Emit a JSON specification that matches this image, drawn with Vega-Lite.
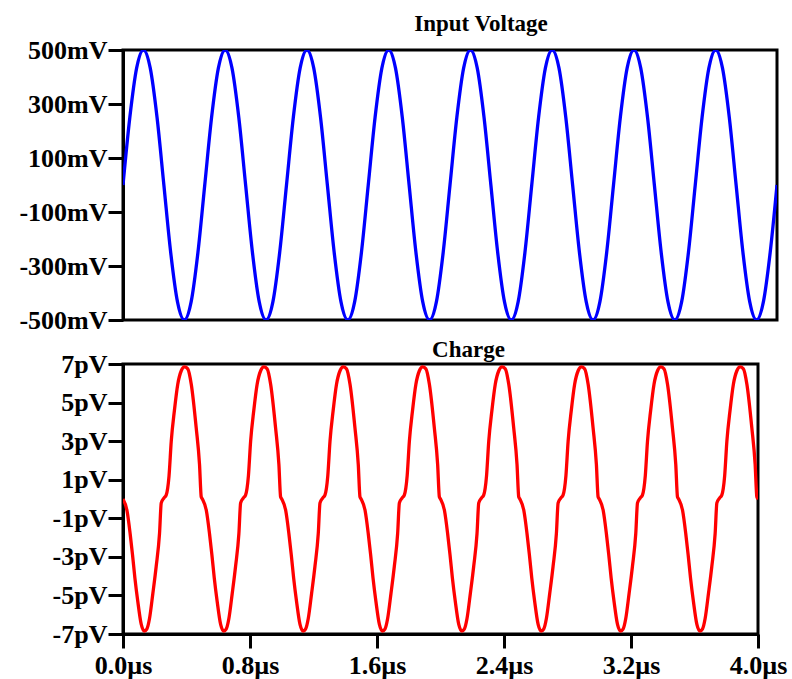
{
  "$schema": "https://vega.github.io/schema/vega-lite/v6.json",
  "background": "white",
  "padding": {"left": 17, "top": 11, "right": 10, "bottom": 5},
  "spacing": 2,
  "config": {
    "view": {"stroke": "black", "strokeWidth": 3},
    "axis": {"labelFont": "Liberation Serif", "labelFontWeight": "bold", "labelFontSize": 26, "labelColor": "black", "tickColor": "black", "tickWidth": 3, "tickSize": 15, "domainColor": "black", "domainWidth": 3, "grid": false, "labelOverlap": false, "labelFlush": false},
    "title": {"font": "Liberation Serif", "fontWeight": "bold", "fontSize": 23, "color": "black", "anchor": "middle", "frame": "group"}
  },
  "vconcat": [
    {
      "width": 654,
      "height": 270,
      "title": {"text": "Input Voltage", "dx": 31, "offset": -17, "baseline": "alphabetic"},
      "data": {"name": "volt"},
      "mark": {"type": "line", "color": "#0000FF", "strokeWidth": 3.3, "interpolate": "monotone", "clip": true},
      "encoding": {
        "x": {"field": "t", "type": "quantitative", "scale": {"domain": [0, 4], "nice": false}, "axis": null},
        "y": {"field": "v", "type": "quantitative", "scale": {"domain": [-500, 500], "nice": false}, "axis": {"title": null, "values": [-500, -300, -100, 100, 300, 500], "labelExpr": "datum.value + 'mV'", "labelPadding": 1}}
      }
    },
    {
      "width": 635,
      "height": 270,
      "title": {"text": "Charge", "dx": 28, "offset": -29, "baseline": "alphabetic"},
      "data": {"name": "charge"},
      "mark": {"type": "line", "color": "#FF0000", "strokeWidth": 3.3, "interpolate": "monotone", "clip": true},
      "encoding": {
        "x": {"field": "t", "type": "quantitative", "scale": {"domain": [0, 4], "nice": false}, "axis": {"title": null, "values": [0, 0.8, 1.6, 2.4, 3.2, 4.0], "labelExpr": "format(datum.value, '.1f') + 'µs'", "tickSize": 14, "labelPadding": 4}},
        "y": {"field": "v", "type": "quantitative", "scale": {"domain": [-7, 7], "nice": false}, "axis": {"title": null, "values": [-7, -5, -3, -1, 1, 3, 5, 7], "labelExpr": "datum.value + 'pV'", "labelPadding": 1}}
      }
    }
  ],
  "datasets": {
    "volt": [
      {"t": 0, "v": 0}, {"t": 0.0417, "v": 250}, {"t": 0.0833, "v": 433}, {"t": 0.125, "v": 500}, {"t": 0.1667, "v": 433}, {"t": 0.2083, "v": 250}, {"t": 0.25, "v": 0}, {"t": 0.2917, "v": -250}, {"t": 0.3333, "v": -433}, {"t": 0.375, "v": -500}, {"t": 0.4167, "v": -433}, {"t": 0.4583, "v": -250},
      {"t": 0.5, "v": 0}, {"t": 0.5417, "v": 250}, {"t": 0.5833, "v": 433}, {"t": 0.625, "v": 500}, {"t": 0.6667, "v": 433}, {"t": 0.7083, "v": 250}, {"t": 0.75, "v": 0}, {"t": 0.7917, "v": -250}, {"t": 0.8333, "v": -433}, {"t": 0.875, "v": -500}, {"t": 0.9167, "v": -433}, {"t": 0.9583, "v": -250},
      {"t": 1.0, "v": 0}, {"t": 1.0417, "v": 250}, {"t": 1.0833, "v": 433}, {"t": 1.125, "v": 500}, {"t": 1.1667, "v": 433}, {"t": 1.2083, "v": 250}, {"t": 1.25, "v": 0}, {"t": 1.2917, "v": -250}, {"t": 1.3333, "v": -433}, {"t": 1.375, "v": -500}, {"t": 1.4167, "v": -433}, {"t": 1.4583, "v": -250},
      {"t": 1.5, "v": 0}, {"t": 1.5417, "v": 250}, {"t": 1.5833, "v": 433}, {"t": 1.625, "v": 500}, {"t": 1.6667, "v": 433}, {"t": 1.7083, "v": 250}, {"t": 1.75, "v": 0}, {"t": 1.7917, "v": -250}, {"t": 1.8333, "v": -433}, {"t": 1.875, "v": -500}, {"t": 1.9167, "v": -433}, {"t": 1.9583, "v": -250},
      {"t": 2.0, "v": 0}, {"t": 2.0417, "v": 250}, {"t": 2.0833, "v": 433}, {"t": 2.125, "v": 500}, {"t": 2.1667, "v": 433}, {"t": 2.2083, "v": 250}, {"t": 2.25, "v": 0}, {"t": 2.2917, "v": -250}, {"t": 2.3333, "v": -433}, {"t": 2.375, "v": -500}, {"t": 2.4167, "v": -433}, {"t": 2.4583, "v": -250},
      {"t": 2.5, "v": 0}, {"t": 2.5417, "v": 250}, {"t": 2.5833, "v": 433}, {"t": 2.625, "v": 500}, {"t": 2.6667, "v": 433}, {"t": 2.7083, "v": 250}, {"t": 2.75, "v": 0}, {"t": 2.7917, "v": -250}, {"t": 2.8333, "v": -433}, {"t": 2.875, "v": -500}, {"t": 2.9167, "v": -433}, {"t": 2.9583, "v": -250},
      {"t": 3.0, "v": 0}, {"t": 3.0417, "v": 250}, {"t": 3.0833, "v": 433}, {"t": 3.125, "v": 500}, {"t": 3.1667, "v": 433}, {"t": 3.2083, "v": 250}, {"t": 3.25, "v": 0}, {"t": 3.2917, "v": -250}, {"t": 3.3333, "v": -433}, {"t": 3.375, "v": -500}, {"t": 3.4167, "v": -433}, {"t": 3.4583, "v": -250},
      {"t": 3.5, "v": 0}, {"t": 3.5417, "v": 250}, {"t": 3.5833, "v": 433}, {"t": 3.625, "v": 500}, {"t": 3.6667, "v": 433}, {"t": 3.7083, "v": 250}, {"t": 3.75, "v": 0}, {"t": 3.7917, "v": -250}, {"t": 3.8333, "v": -433}, {"t": 3.875, "v": -500}, {"t": 3.9167, "v": -433}, {"t": 3.9583, "v": -250},
      {"t": 4.0, "v": 0}
    ],
    "charge": [
      {"t": 0, "v": 0}, {"t": 0.025, "v": -0.6}, {"t": 0.045, "v": -1.8}, {"t": 0.06, "v": -2.9}, {"t": 0.075, "v": -4.1}, {"t": 0.093, "v": -5.3}, {"t": 0.115, "v": -6.5}, {"t": 0.135, "v": -6.85}, {"t": 0.15, "v": -6.75}, {"t": 0.167, "v": -6.2}, {"t": 0.188, "v": -4.9}, {"t": 0.209, "v": -3.5}, {"t": 0.23, "v": -1.8}, {"t": 0.241, "v": -0.2}, {"t": 0.258, "v": 0.05}, {"t": 0.272, "v": 0.2}, {"t": 0.29, "v": 1.2}, {"t": 0.304, "v": 3.0}, {"t": 0.324, "v": 4.6}, {"t": 0.345, "v": 5.95}, {"t": 0.367, "v": 6.65}, {"t": 0.387, "v": 6.85}, {"t": 0.408, "v": 6.75}, {"t": 0.43, "v": 5.95}, {"t": 0.461, "v": 3.7}, {"t": 0.482, "v": 1.8}, {"t": 0.493, "v": 0.1},
      {"t": 0.5, "v": 0}, {"t": 0.525, "v": -0.6}, {"t": 0.545, "v": -1.8}, {"t": 0.56, "v": -2.9}, {"t": 0.575, "v": -4.1}, {"t": 0.593, "v": -5.3}, {"t": 0.615, "v": -6.5}, {"t": 0.635, "v": -6.85}, {"t": 0.65, "v": -6.75}, {"t": 0.667, "v": -6.2}, {"t": 0.688, "v": -4.9}, {"t": 0.709, "v": -3.5}, {"t": 0.73, "v": -1.8}, {"t": 0.741, "v": -0.2}, {"t": 0.758, "v": 0.05}, {"t": 0.772, "v": 0.2}, {"t": 0.79, "v": 1.2}, {"t": 0.804, "v": 3.0}, {"t": 0.824, "v": 4.6}, {"t": 0.845, "v": 5.95}, {"t": 0.867, "v": 6.65}, {"t": 0.887, "v": 6.85}, {"t": 0.908, "v": 6.75}, {"t": 0.93, "v": 5.95}, {"t": 0.961, "v": 3.7}, {"t": 0.982, "v": 1.8}, {"t": 0.993, "v": 0.1},
      {"t": 1.0, "v": 0}, {"t": 1.025, "v": -0.6}, {"t": 1.045, "v": -1.8}, {"t": 1.06, "v": -2.9}, {"t": 1.075, "v": -4.1}, {"t": 1.093, "v": -5.3}, {"t": 1.115, "v": -6.5}, {"t": 1.135, "v": -6.85}, {"t": 1.15, "v": -6.75}, {"t": 1.167, "v": -6.2}, {"t": 1.188, "v": -4.9}, {"t": 1.209, "v": -3.5}, {"t": 1.23, "v": -1.8}, {"t": 1.241, "v": -0.2}, {"t": 1.258, "v": 0.05}, {"t": 1.272, "v": 0.2}, {"t": 1.29, "v": 1.2}, {"t": 1.304, "v": 3.0}, {"t": 1.324, "v": 4.6}, {"t": 1.345, "v": 5.95}, {"t": 1.367, "v": 6.65}, {"t": 1.387, "v": 6.85}, {"t": 1.408, "v": 6.75}, {"t": 1.43, "v": 5.95}, {"t": 1.461, "v": 3.7}, {"t": 1.482, "v": 1.8}, {"t": 1.493, "v": 0.1},
      {"t": 1.5, "v": 0}, {"t": 1.525, "v": -0.6}, {"t": 1.545, "v": -1.8}, {"t": 1.56, "v": -2.9}, {"t": 1.575, "v": -4.1}, {"t": 1.593, "v": -5.3}, {"t": 1.615, "v": -6.5}, {"t": 1.635, "v": -6.85}, {"t": 1.65, "v": -6.75}, {"t": 1.667, "v": -6.2}, {"t": 1.688, "v": -4.9}, {"t": 1.709, "v": -3.5}, {"t": 1.73, "v": -1.8}, {"t": 1.741, "v": -0.2}, {"t": 1.758, "v": 0.05}, {"t": 1.772, "v": 0.2}, {"t": 1.79, "v": 1.2}, {"t": 1.804, "v": 3.0}, {"t": 1.824, "v": 4.6}, {"t": 1.845, "v": 5.95}, {"t": 1.867, "v": 6.65}, {"t": 1.887, "v": 6.85}, {"t": 1.908, "v": 6.75}, {"t": 1.93, "v": 5.95}, {"t": 1.961, "v": 3.7}, {"t": 1.982, "v": 1.8}, {"t": 1.993, "v": 0.1},
      {"t": 2.0, "v": 0}, {"t": 2.025, "v": -0.6}, {"t": 2.045, "v": -1.8}, {"t": 2.06, "v": -2.9}, {"t": 2.075, "v": -4.1}, {"t": 2.093, "v": -5.3}, {"t": 2.115, "v": -6.5}, {"t": 2.135, "v": -6.85}, {"t": 2.15, "v": -6.75}, {"t": 2.167, "v": -6.2}, {"t": 2.188, "v": -4.9}, {"t": 2.209, "v": -3.5}, {"t": 2.23, "v": -1.8}, {"t": 2.241, "v": -0.2}, {"t": 2.258, "v": 0.05}, {"t": 2.272, "v": 0.2}, {"t": 2.29, "v": 1.2}, {"t": 2.304, "v": 3.0}, {"t": 2.324, "v": 4.6}, {"t": 2.345, "v": 5.95}, {"t": 2.367, "v": 6.65}, {"t": 2.387, "v": 6.85}, {"t": 2.408, "v": 6.75}, {"t": 2.43, "v": 5.95}, {"t": 2.461, "v": 3.7}, {"t": 2.482, "v": 1.8}, {"t": 2.493, "v": 0.1},
      {"t": 2.5, "v": 0}, {"t": 2.525, "v": -0.6}, {"t": 2.545, "v": -1.8}, {"t": 2.56, "v": -2.9}, {"t": 2.575, "v": -4.1}, {"t": 2.593, "v": -5.3}, {"t": 2.615, "v": -6.5}, {"t": 2.635, "v": -6.85}, {"t": 2.65, "v": -6.75}, {"t": 2.667, "v": -6.2}, {"t": 2.688, "v": -4.9}, {"t": 2.709, "v": -3.5}, {"t": 2.73, "v": -1.8}, {"t": 2.741, "v": -0.2}, {"t": 2.758, "v": 0.05}, {"t": 2.772, "v": 0.2}, {"t": 2.79, "v": 1.2}, {"t": 2.804, "v": 3.0}, {"t": 2.824, "v": 4.6}, {"t": 2.845, "v": 5.95}, {"t": 2.867, "v": 6.65}, {"t": 2.887, "v": 6.85}, {"t": 2.908, "v": 6.75}, {"t": 2.93, "v": 5.95}, {"t": 2.961, "v": 3.7}, {"t": 2.982, "v": 1.8}, {"t": 2.993, "v": 0.1},
      {"t": 3.0, "v": 0}, {"t": 3.025, "v": -0.6}, {"t": 3.045, "v": -1.8}, {"t": 3.06, "v": -2.9}, {"t": 3.075, "v": -4.1}, {"t": 3.093, "v": -5.3}, {"t": 3.115, "v": -6.5}, {"t": 3.135, "v": -6.85}, {"t": 3.15, "v": -6.75}, {"t": 3.167, "v": -6.2}, {"t": 3.188, "v": -4.9}, {"t": 3.209, "v": -3.5}, {"t": 3.23, "v": -1.8}, {"t": 3.241, "v": -0.2}, {"t": 3.258, "v": 0.05}, {"t": 3.272, "v": 0.2}, {"t": 3.29, "v": 1.2}, {"t": 3.304, "v": 3.0}, {"t": 3.324, "v": 4.6}, {"t": 3.345, "v": 5.95}, {"t": 3.367, "v": 6.65}, {"t": 3.387, "v": 6.85}, {"t": 3.408, "v": 6.75}, {"t": 3.43, "v": 5.95}, {"t": 3.461, "v": 3.7}, {"t": 3.482, "v": 1.8}, {"t": 3.493, "v": 0.1},
      {"t": 3.5, "v": 0}, {"t": 3.525, "v": -0.6}, {"t": 3.545, "v": -1.8}, {"t": 3.56, "v": -2.9}, {"t": 3.575, "v": -4.1}, {"t": 3.593, "v": -5.3}, {"t": 3.615, "v": -6.5}, {"t": 3.635, "v": -6.85}, {"t": 3.65, "v": -6.75}, {"t": 3.667, "v": -6.2}, {"t": 3.688, "v": -4.9}, {"t": 3.709, "v": -3.5}, {"t": 3.73, "v": -1.8}, {"t": 3.741, "v": -0.2}, {"t": 3.758, "v": 0.05}, {"t": 3.772, "v": 0.2}, {"t": 3.79, "v": 1.2}, {"t": 3.804, "v": 3.0}, {"t": 3.824, "v": 4.6}, {"t": 3.845, "v": 5.95}, {"t": 3.867, "v": 6.65}, {"t": 3.887, "v": 6.85}, {"t": 3.908, "v": 6.75}, {"t": 3.93, "v": 5.95}, {"t": 3.961, "v": 3.7}, {"t": 3.982, "v": 1.8}, {"t": 3.993, "v": 0.1},
      {"t": 4.0, "v": 0}
    ]
  }
}
